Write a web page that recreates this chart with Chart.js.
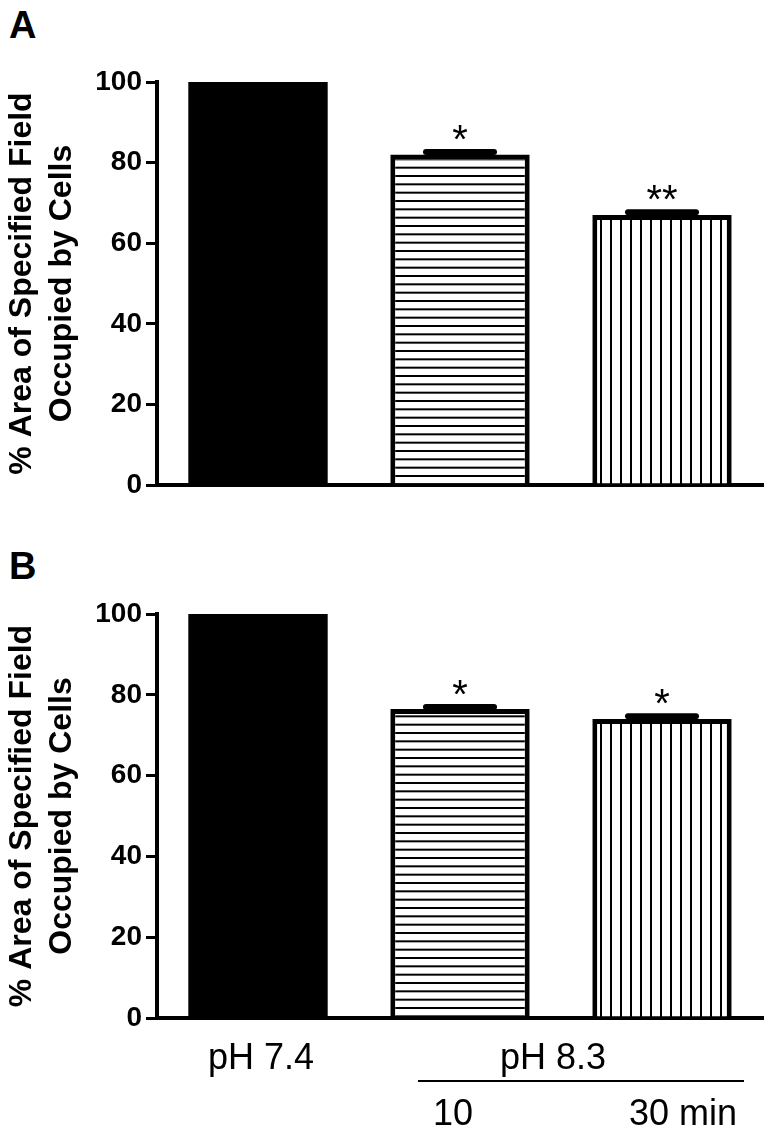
<!DOCTYPE html>
<html>
<head>
<meta charset="utf-8">
<script src="https://cdn.jsdelivr.net/npm/chart.js@4"></script>
<style>
  body { margin: 0; background: #fff; width: 772px; height: 1134px; position: relative; overflow: hidden; }
  .panel { position: absolute; left: 0; width: 772px; }
  .tag { position: absolute; left: 9px; font: bold 38px "Liberation Sans", Arial, sans-serif; line-height: 1; color: #000; }
</style>
</head>
<body>
<div class="tag" style="top:6px">A</div>
<div class="tag" style="top:547px">B</div>
<div class="panel" style="top:0;height:532px"><canvas id="chartA" width="772" height="532"></canvas></div>
<div class="panel" style="top:532px;height:602px"><canvas id="chartB" width="772" height="602"></canvas></div>
<script>
// ---- data ----
const categories = ['pH 7.4', 'pH 8.3 10 min', 'pH 8.3 30 min'];
const meansA = [100, 82, 67];
const errA = [0, 0.6, 0.7];
const starsA = ['', '*', '**'];
const meansB = [100, 76.5, 74];
const errB = [0, 0.5, 0.7];
const starsB = ['', '*', '*'];
const yTicks = [0, 20, 40, 60, 80, 100];
const groupLabels = ['pH 7.4', 'pH 8.3'];
const timeLabels = ['10', '30 min'];
const yTitle = ['% Area of Specified Field', 'Occupied by Cells'];

const FONT = '"Liberation Sans", Arial, sans-serif';

// hatch fills
function hatch(kind) {
    const c = document.createElement('canvas');
    const g = c.getContext('2d');
    if (kind === 'h') {
        c.width = 10; c.height = 25;
        g.fillStyle = '#fff'; g.fillRect(0, 0, 10, 25);
        g.fillStyle = '#000';
        [0, 8.33, 16.67].forEach(y => g.fillRect(0, y, 10, 2));
    } else {
        c.width = 10; c.height = 10;
        g.fillStyle = '#fff'; g.fillRect(0, 0, 10, 10);
        g.fillStyle = '#000';
        g.fillRect(0, 0, 2, 10);
    }
    return g.createPattern(c, 'repeat');
}

// error bars + asterisks
const errorBars = {
    id: 'errorBars',
    afterDatasetsDraw(chart, args, opts) {
        const ctx = chart.ctx;
        const y = chart.scales.y;
        const bars = chart.getDatasetMeta(0).data;
        ctx.save();
        ctx.strokeStyle = '#000';
        ctx.fillStyle = '#000';
        opts.means.forEach((m, i) => {
            const e = opts.errs[i];
            const x = bars[i].x;
            const py = y.getPixelForValue(m + e);
            if (e > 0) {
                ctx.lineWidth = 3;
                ctx.beginPath();
                ctx.moveTo(x, y.getPixelForValue(m));
                ctx.lineTo(x, py);
                ctx.stroke();
                ctx.lineWidth = 6;
                ctx.lineCap = 'round';
                ctx.beginPath();
                ctx.moveTo(x - 34, py);
                ctx.lineTo(x + 34, py);
                ctx.stroke();
            }
            if (opts.stars[i]) {
                ctx.font = '40px ' + FONT;
                ctx.textAlign = 'center';
                ctx.textBaseline = 'alphabetic';
                ctx.fillText(opts.stars[i], x, py + 1);
            }
        });
        ctx.restore();
    }
};

// group labels under panel B
const groupAxis = {
    id: 'groupAxis',
    afterDraw(chart, args, opts) {
        if (!opts.show) return;
        const ctx = chart.ctx;
        const xs = chart.scales.x;
        const x0 = xs.getPixelForValue(0), x1 = xs.getPixelForValue(1), x2 = xs.getPixelForValue(2);
        const base = chart.chartArea.bottom;
        ctx.save();
        ctx.fillStyle = '#000';
        ctx.font = '36px ' + FONT;
        ctx.textAlign = 'center';
        ctx.textBaseline = 'alphabetic';
        ctx.fillText(groupLabels[0], x0 + 3, base + 51);
        ctx.fillText(groupLabels[1], (x1 + x2) / 2 - 8, base + 51);
        ctx.fillText(timeLabels[0], x1 - 7, base + 107);
        ctx.fillText(timeLabels[1], x2 + 21, base + 107);
        ctx.fillRect(x1 - 42, base + 62, (x2 + 82) - (x1 - 42), 2);
        ctx.restore();
    }
};

function makeChart(id, means, errs, stars, padBottom, showGroups) {
    const ctx = document.getElementById(id).getContext('2d');
    return new Chart(ctx, {
        type: 'bar',
        data: {
            labels: categories,
            datasets: [{
                data: means,
                backgroundColor: ['#000', hatch('h'), hatch('v')],
                borderColor: '#000',
                borderWidth: [0, 5, 5],
                barPercentage: 0.69,
                categoryPercentage: 1
            }]
        },
        options: {
            responsive: false,
            animation: false,
            layout: { padding: { top: 82, right: 9, bottom: padBottom, left: 0 } },
            plugins: {
                legend: { display: false },
                tooltip: { enabled: false },
                errorBars: { means: means, errs: errs, stars: stars },
                groupAxis: { show: showGroups }
            },
            scales: {
                x: {
                    grid: { display: false },
                    border: { display: true, color: '#000', width: 4 },
                    ticks: { display: false },
                    afterFit(s) { s.height = 0; }
                },
                y: {
                    min: 0,
                    max: 100,
                    afterBuildTicks(s) { s.ticks = yTicks.map(v => ({ value: v })); },
                    grid: { display: true, drawOnChartArea: false, drawTicks: true, tickLength: 11, color: '#000', lineWidth: 3 },
                    border: { display: true, color: '#000', width: 4 },
                    ticks: { color: '#000', padding: 4, font: { family: FONT, size: 28, weight: 'bold' } },
                    title: {
                        display: true,
                        text: yTitle,
                        color: '#000',
                        padding: { top: 2, bottom: 0 },
                        font: { family: FONT, size: 32, weight: 'bold', lineHeight: 1.25 }
                    },
                    afterFit(s) { s.width = 157; }
                }
            }
        },
        plugins: [errorBars, groupAxis]
    });
}

makeChart('chartA', meansA, errA, starsA, 47, false);
makeChart('chartB', meansB, errB, starsB, 116, true);
</script>
</body>
</html>
